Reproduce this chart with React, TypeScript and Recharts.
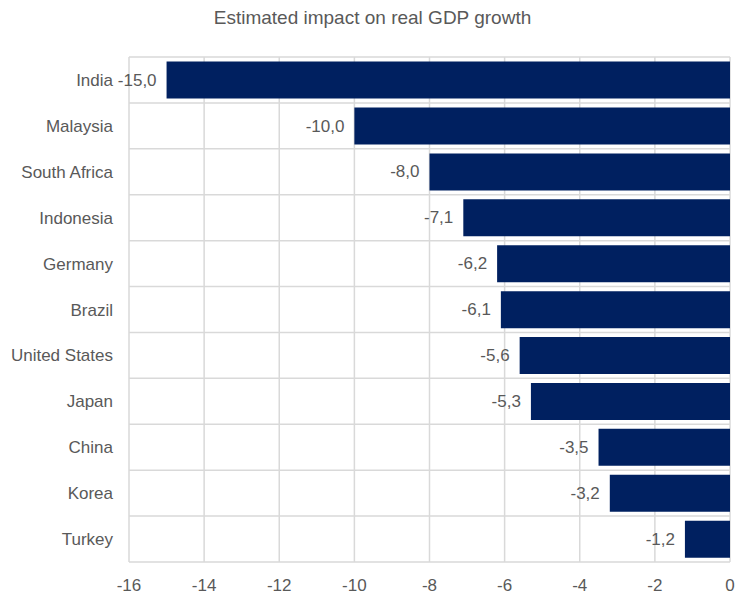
import { Bar, BarChart, CartesianGrid, LabelList, XAxis, YAxis } from "recharts";

const countries = [
  "India",
  "Malaysia",
  "South Africa",
  "Indonesia",
  "Germany",
  "Brazil",
  "United States",
  "Japan",
  "China",
  "Korea",
  "Turkey",
];
const impact = [-15.0, -10.0, -8.0, -7.1, -6.2, -6.1, -5.6, -5.3, -3.5, -3.2, -1.2];
const xTicks = [-16, -14, -12, -10, -8, -6, -4, -2, 0];

const data = countries.map((name, i) => ({ name, value: impact[i] }));

const FONT = '"Liberation Sans", Arial, sans-serif';
const TEXT = "#595959";

// value label sits just left of the bar's far end
function ValueLabel(props: any) {
  const { x, y, width, height, value } = props;
  const left = Math.min(x, x + width);
  return (
    <text
      x={left - 10}
      y={y + height / 2}
      textAnchor="end"
      dominantBaseline="central"
      fill={TEXT}
      fontSize={17}
      fontFamily={FONT}
    >
      {Number(value).toFixed(1).replace(".", ",")}
    </text>
  );
}

export default function App() {
  return (
    <div style={{ position: "absolute", left: 0, top: 0, width: 737, height: 597, background: "#fff" }}>
      <div
        style={{
          position: "absolute",
          top: 7,
          left: 0,
          width: 745,
          textAlign: "center",
          fontFamily: FONT,
          fontSize: 19,
          color: TEXT,
        }}
      >
        Estimated impact on real GDP growth
      </div>
      <BarChart
        width={737}
        height={597}
        data={data}
        layout="vertical"
        margin={{ top: 57, right: 7, bottom: 5, left: 0 }}
        barCategoryGap="10%"
      >
        <CartesianGrid
          stroke="#d9d9d9"
          strokeWidth={1.5}
          horizontalCoordinatesGenerator={({ offset }: any) =>
            Array.from({ length: countries.length + 1 }, (_, i) => offset.top + (i * offset.height) / countries.length)
          }
        />
        <XAxis
          type="number"
          domain={[-16, 0]}
          ticks={xTicks}
          axisLine={false}
          tickLine={false}
          tickMargin={11}
          height={30}
          tick={{ fill: TEXT, fontSize: 17, fontFamily: FONT }}
        />
        <YAxis
          type="category"
          dataKey="name"
          width={129}
          axisLine={false}
          tickLine={false}
          tickMargin={10}
          tick={{ fill: TEXT, fontSize: 17, fontFamily: FONT }}
        />
        <Bar dataKey="value" fill="#002060" isAnimationActive={false}>
          <LabelList dataKey="value" content={ValueLabel} />
        </Bar>
      </BarChart>
    </div>
  );
}
